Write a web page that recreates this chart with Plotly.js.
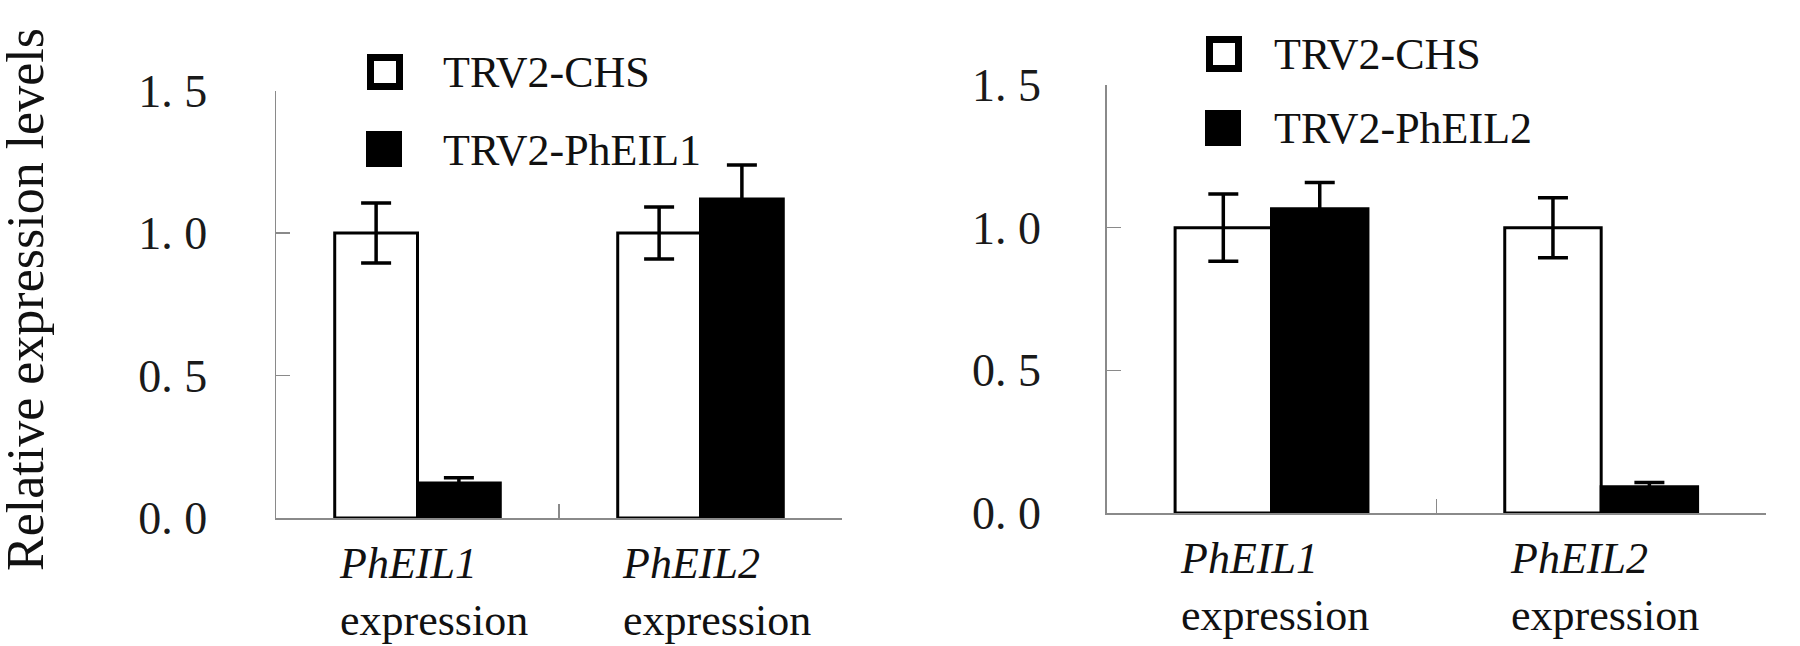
<!DOCTYPE html>
<html>
<head>
<meta charset="utf-8">
<script src="https://cdn.plot.ly/plotly-3.0.1.min.js"></script>
<style>
  html, body { margin: 0; padding: 0; background: #fff; }
  #chart { width: 1800px; height: 646px; }
</style>
</head>
<body>
<div id="chart"></div>
<script>
// ---- data ----
const categories = ['PhEIL1', 'PhEIL2'];
const categoryLabels = ['<i>PhEIL1</i><br>expression', '<i>PhEIL2</i><br>expression'];
const seriesNamesA = ['TRV2-CHS', 'TRV2-PhEIL1'];
const seriesNamesB = ['TRV2-CHS', 'TRV2-PhEIL2'];

// left panel (PhEIL1 silencing)
const chsA = [1.00, 1.00];
const chsAErr = [0.105, 0.091];
const eil1A = [0.123, 1.119];
const eil1AErr = [0.018, 0.120];

// right panel (PhEIL2 silencing)
const chsB = [1.00, 1.00];
const chsBErr = [0.118, 0.105];
const eil2B = [1.066, 0.092];
const eil2BErr = [0.092, 0.015];

const yTickVals = [0, 0.5, 1.0, 1.5];
const yTickText = ['0. 0', '0. 5', '1. 0', '1. 5'];
const yTitle = 'Relative expression levels';

// ---- layout helpers ----
const W = 1800, H = 646;
const px = x => x / W;
const py = y => 1 - y / H;
const FONT = '"Liberation Serif", "Times New Roman", serif';
const AXC = '#8a8a8a';

function barTrace(vals, errs, fill, xa, ya, name) {
  return {
    type: 'bar', x: categories, y: vals, name: name,
    xaxis: xa, yaxis: ya,
    marker: { color: fill, line: { color: '#000', width: 3 } },
    error_y: { type: 'data', array: errs, visible: true, color: '#000', thickness: 3.5, width: 15 },
    hoverinfo: 'skip', showlegend: false
  };
}

const data = [
  barTrace(chsA, chsAErr, '#ffffff', 'x', 'y', seriesNamesA[0]),
  barTrace(eil1A, eil1AErr, '#000000', 'x', 'y', seriesNamesA[1]),
  barTrace(chsB, chsBErr, '#ffffff', 'x2', 'y2', seriesNamesB[0]),
  barTrace(eil2B, eil2BErr, '#000000', 'x2', 'y2', seriesNamesB[1])
];

function xAxis(domain, anchor) {
  return {
    domain: domain, anchor: anchor, type: 'category',
    showline: true, linecolor: AXC, linewidth: 1.5,
    ticks: 'inside', ticklen: 14, tickwidth: 1.5, tickcolor: AXC,
    tickson: 'boundaries', showticklabels: false,
    showgrid: false, zeroline: false, fixedrange: true
  };
}
function yAxis(domain, anchor, standoff) {
  return {
    domain: domain, anchor: anchor, range: [0, 1.5],
    tickmode: 'array', tickvals: yTickVals, ticktext: yTickText,
    showline: true, linecolor: AXC, linewidth: 1.5,
    ticks: 'inside', ticklen: 14, tickwidth: 1.5, tickcolor: AXC,
    ticklabelstandoff: standoff,
    tickfont: { family: FONT, size: 46, color: '#1a1a1a' },
    showgrid: false, zeroline: false, fixedrange: true
  };
}

const annotations = [];
const shapes = [];

// y title
annotations.push({
  xref: 'paper', yref: 'paper', x: px(25), y: py(300),
  xanchor: 'center', yanchor: 'middle', textangle: -90, showarrow: false,
  text: yTitle, font: { family: FONT, size: 52, color: '#111' }
});

// category labels
[['x', 'y', 16], ['x2', 'y2', 3]].forEach(([xa, ya, sh]) => {
  categories.forEach((c, i) => {
    annotations.push({
      xref: xa, yref: ya, x: c, y: 0, xanchor: 'center', yanchor: 'top',
      xshift: sh, yshift: -19, align: 'left', showarrow: false,
      text: categoryLabels[i], font: { family: FONT, size: 44, color: '#111' }
    });
  });
});

// legends (white square with thick border, black square)
function legend(names, sqX, y1, y2, textX) {
  shapes.push({ type: 'rect', xref: 'paper', yref: 'paper',
    x0: px(sqX + 3.5), x1: px(sqX + 36 - 3.5), y0: py(y1 - 18 + 3.5), y1: py(y1 + 18 - 3.5),
    fillcolor: '#fff', line: { color: '#000', width: 7 } });
  shapes.push({ type: 'rect', xref: 'paper', yref: 'paper',
    x0: px(sqX - 1), x1: px(sqX + 35), y0: py(y2 - 18), y1: py(y2 + 18),
    fillcolor: '#000', line: { width: 0 } });
  [y1, y2].forEach((yy, i) => {
    annotations.push({
      xref: 'paper', yref: 'paper', x: px(textX), y: py(yy + 1),
      xanchor: 'left', yanchor: 'middle', showarrow: false,
      text: names[i], font: { family: FONT, size: 44, color: '#111' }
    });
  });
}
legend(seriesNamesA, 367, 72, 149, 441);
legend(seriesNamesB, 1206, 54, 128, 1272);

const layout = {
  width: W, height: H,
  margin: { l: 0, r: 0, t: 0, b: 0 },
  paper_bgcolor: '#fff', plot_bgcolor: 'rgba(0,0,0,0)',
  barmode: 'group', bargap: 0.415, bargroupgap: 0,
  showlegend: false,
  xaxis: xAxis([px(276), px(842)], 'y'),
  yaxis: yAxis([py(518), py(90.5)], 'x', 58),
  xaxis2: xAxis([px(1106.7), px(1766)], 'y2'),
  yaxis2: yAxis([py(513), py(85)], 'x2', 55),
  annotations: annotations,
  shapes: shapes
};

Plotly.newPlot('chart', data, layout, { staticPlot: true, displayModeBar: false });
</script>
</body>
</html>
